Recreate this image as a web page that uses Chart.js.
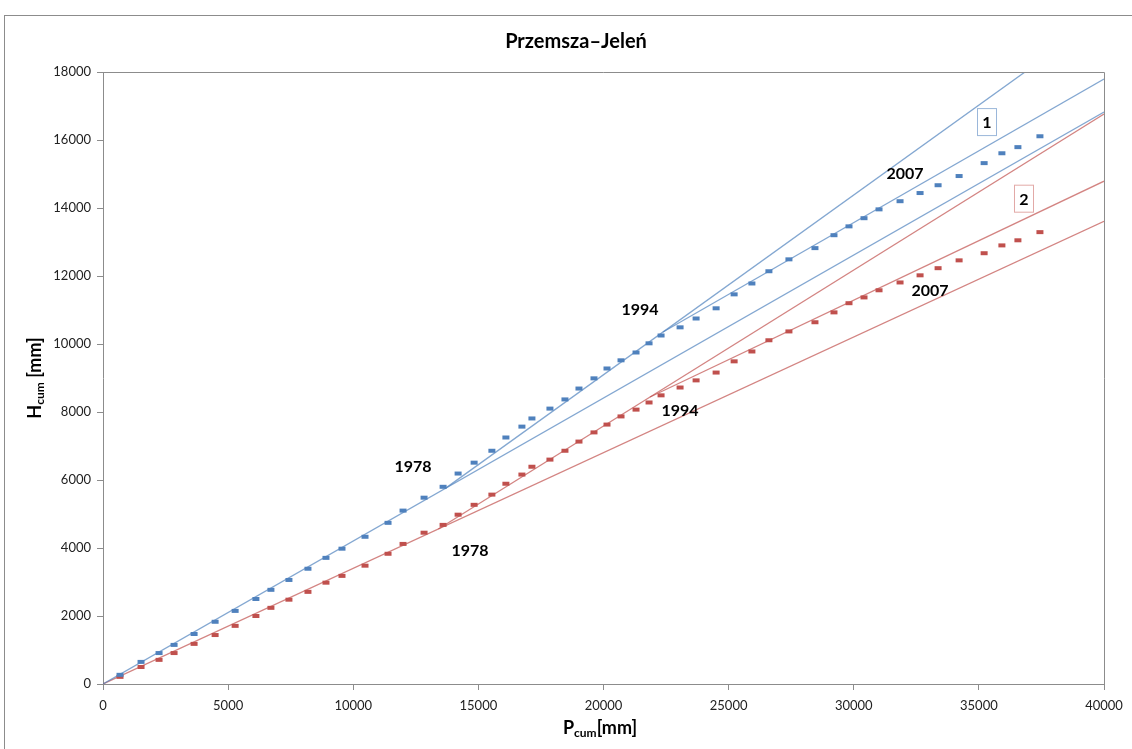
<!DOCTYPE html>
<html>
<head>
<meta charset="utf-8">
<script src="https://cdn.jsdelivr.net/npm/chart.js@4/dist/chart.umd.min.js"></script>
<style>
  html, body { margin: 0; padding: 0; background: #fff; }
  .frame { position: absolute; left: 4px; top: 15px; width: 1140px; height: 760px; border: 1px solid #8c8c8c; }
  .wrap { position: absolute; left: 0; top: 0; width: 1132px; height: 749px; }
</style>
</head>
<body>
<div class="frame"></div>
<div class="wrap"><canvas id="chart" width="1132" height="749"></canvas></div>
<script>
// data
const pCum = [680, 1520, 2240, 2840, 3640, 4480, 5280, 6110, 6710, 7430, 8190, 8910, 9550, 10470, 11390, 11990, 12830, 13590, 14190, 14830,
  15540, 16100, 16740, 17140, 17860, 18460, 19020, 19620, 20140, 20700, 21300, 21820, 22300, 23060, 23700, 24500, 25220, 25930, 26610, 27410,
  28450, 29210, 29810, 30410, 31010, 31850, 32650, 33370, 34210, 35210, 35920, 36560, 37440];
const hCum1 = [270, 650, 910, 1150, 1470, 1830, 2150, 2500, 2770, 3060, 3390, 3710, 3980, 4330, 4740, 5100, 5480, 5800, 6190, 6510,
  6860, 7250, 7570, 7810, 8100, 8370, 8690, 8990, 9280, 9520, 9750, 10020, 10250, 10490, 10750, 11050, 11460, 11780, 12140, 12490,
  12820, 13200, 13460, 13700, 13960, 14200, 14440, 14670, 14940, 15320, 15610, 15790, 16110];
const hCum2 = [210, 500, 710, 910, 1180, 1440, 1710, 2000, 2240, 2480, 2710, 2980, 3180, 3480, 3830, 4120, 4450, 4680, 4980, 5270,
  5570, 5890, 6160, 6390, 6600, 6860, 7130, 7400, 7630, 7870, 8070, 8280, 8490, 8720, 8930, 9160, 9490, 9780, 10110, 10370,
  10640, 10930, 11200, 11370, 11580, 11810, 12020, 12230, 12460, 12670, 12900, 13050, 13290];

// trend segments [x0, y0, x1, y1]
const trends1 = [[0, 0, 40000, 16822], [13666, 5747, 40000, 19670], [22378, 10353, 40000, 17794]];
const trends2 = [[0, 0, 40000, 13611], [13400, 4560, 40000, 16763], [21860, 8441, 40000, 14789]];

// year labels [text, x, y]
const yearLabels1 = [['1978', 12388, 6393], ['1994', 21459, 11018], ['2007', 32048, 14995]];
const yearLabels2 = [['1978', 14665, 3918], ['1994', 23057, 8043], ['2007', 33047, 11578]];
const seriesTags = [['1', 35325, 16527], ['2', 36803, 14274]];

const xTicks = [0, 5000, 10000, 15000, 20000, 25000, 30000, 35000, 40000];
const yTicks = [0, 2000, 4000, 6000, 8000, 10000, 12000, 14000, 16000, 18000];

const blue = '#4f81bd';
const red = '#c0504d';
const blueLine = 'rgba(79,129,189,0.7)';
const redLine = 'rgba(192,80,77,0.7)';
const font = 'Lato, "Open Sans", sans-serif';

function pts(xs, ys) {
  return xs.map((x, i) => ({ x: x, y: ys[i] }));
}

let datasets = [
  { label: '1', data: pts(pCum, hCum1), showLine: false, pointStyle: 'line', pointRadius: 3.5, borderWidth: 4,
    borderColor: blue, backgroundColor: blue, pointHoverRadius: 3.5, order: 0 },
  { label: '2', data: pts(pCum, hCum2), showLine: false, pointStyle: 'line', pointRadius: 3.5, borderWidth: 4,
    borderColor: red, backgroundColor: red, pointHoverRadius: 3.5, order: 0 }
];
trends1.forEach(function (t) {
  datasets.push({ data: [{ x: t[0], y: t[1] }, { x: t[2], y: t[3] }], showLine: true, pointRadius: 0,
    borderColor: blueLine, borderWidth: 1.3, order: 1 });
});
trends2.forEach(function (t) {
  datasets.push({ data: [{ x: t[0], y: t[1] }, { x: t[2], y: t[3] }], showLine: true, pointRadius: 0,
    borderColor: redLine, borderWidth: 1.3, order: 1 });
});

// title, axis titles with subscript, plot frame and labels
const decor = {
  id: 'decor',
  afterDraw(chart) {
    const ctx = chart.ctx;
    const a = chart.chartArea;
    const sx = chart.scales.x, sy = chart.scales.y;
    ctx.save();
    ctx.strokeStyle = '#8c8c8c';
    ctx.lineWidth = 1;
    ctx.beginPath();
    ctx.moveTo(a.left, a.top + 0.5);
    ctx.lineTo(a.right + 0.5, a.top + 0.5);
    ctx.lineTo(a.right + 0.5, a.bottom);
    ctx.stroke();

    ctx.fillStyle = '#000';
    ctx.textAlign = 'center';
    ctx.textBaseline = 'middle';
    ctx.font = 'bold 20px ' + font;
    ctx.fillText('Przemsza\u2013Jeleń', 576, 42);

    ctx.font = 'bold 16px ' + font;
    function labels(list) {
      list.forEach(function (l) {
        ctx.fillText(l[0], sx.getPixelForValue(l[1]), sy.getPixelForValue(l[2]));
      });
    }
    labels(yearLabels1);
    labels(yearLabels2);

    seriesTags.forEach(function (t, i) {
      const px = sx.getPixelForValue(t[1]), py = sy.getPixelForValue(t[2]);
      ctx.fillStyle = '#fff';
      ctx.fillRect(px - 10, py - 13, 20, 27);
      ctx.strokeStyle = i === 0 ? '#9bb7da' : '#e2a9a7';
      ctx.strokeRect(px - 9.5, py - 13.5, 19, 27);
      ctx.fillStyle = '#000';
      ctx.fillText(t[0], px, py + 1);
    });

    function subTitle(main, sub, rest, x, y, rot) {
      ctx.save();
      ctx.translate(x, y);
      ctx.rotate(rot);
      ctx.textAlign = 'left';
      ctx.textBaseline = 'alphabetic';
      ctx.font = 'bold 18px ' + font;
      const w1 = ctx.measureText(main).width;
      const w3 = ctx.measureText(rest).width;
      ctx.font = 'bold 12px ' + font;
      const w2 = ctx.measureText(sub).width;
      let x0 = -(w1 + w2 + w3) / 2;
      ctx.font = 'bold 18px ' + font;
      ctx.fillText(main, x0, 6);
      ctx.font = 'bold 12px ' + font;
      ctx.fillText(sub, x0 + w1, 9);
      ctx.font = 'bold 18px ' + font;
      ctx.fillText(rest, x0 + w1 + w2, 6);
      ctx.restore();
    }
    subTitle('P', 'cum', '[mm]', 600, 728, 0);
    subTitle('H', 'cum', ' [mm]', 35, 378, -Math.PI / 2);
    ctx.restore();
  }
};

new Chart(document.getElementById('chart'), {
  type: 'scatter',
  data: { datasets: datasets },
  options: {
    responsive: false,
    animation: false,
    events: [],
    layout: { padding: { left: 43, right: 28, top: 72, bottom: 25 } },
    plugins: { legend: { display: false }, tooltip: { enabled: false } },
    scales: {
      x: {
        type: 'linear', min: 0, max: 40000,
        afterBuildTicks: function (s) { s.ticks = xTicks.map(v => ({ value: v })); },
        afterFit: function (s) { s.height = 40; },
        grid: { drawOnChartArea: false, tickLength: 6, color: '#8c8c8c' },
        border: { color: '#8c8c8c' },
        ticks: { padding: 8, color: '#222', font: { family: font, size: 13 }, maxRotation: 0, callback: v => String(v) }
      },
      y: {
        type: 'linear', min: 0, max: 18000,
        afterBuildTicks: function (s) { s.ticks = yTicks.map(v => ({ value: v })); },
        afterFit: function (s) { s.width = 60; },
        grid: { drawOnChartArea: false, tickLength: 6, color: '#8c8c8c' },
        border: { color: '#8c8c8c' },
        ticks: { padding: 6, color: '#222', font: { family: font, size: 13 }, callback: v => String(v) }
      }
    }
  },
  plugins: [decor]
});
</script>
</body>
</html>
